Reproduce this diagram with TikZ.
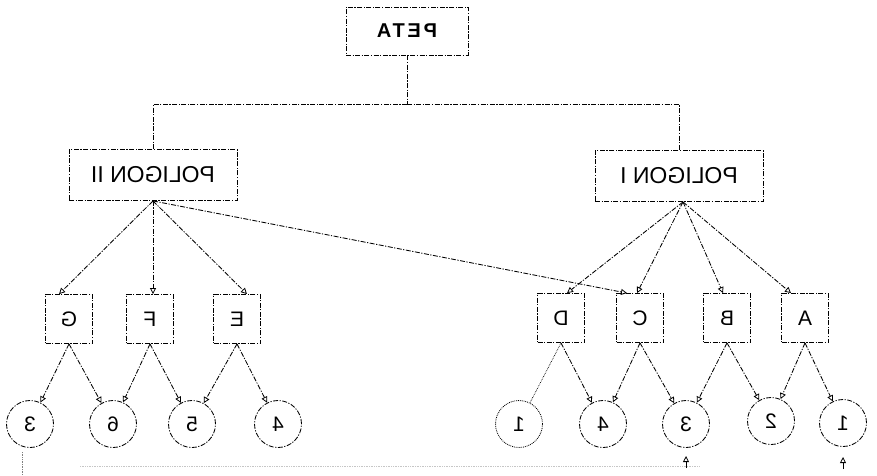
\documentclass[tikz,border=0pt]{standalone}
\usepackage{graphicx}
\usepackage{fontspec}
\setmainfont{Liberation Sans}
\usetikzlibrary{arrows.meta}
\newcommand\mirr[1]{\scalebox{-1}[1]{#1}}
\tikzset{
  dd/.style={line width=0.85pt, dash pattern=on 5pt off 1.5pt on 1.2pt off 1.5pt},
  bigbox/.style={dd, draw, minimum width=168pt, minimum height=51pt, inner sep=0pt,
    font=\fontsize{23}{23}\selectfont},
  topbox/.style={dd, draw, minimum width=122pt, minimum height=48pt, inner sep=0pt,
    font=\fontsize{20}{20}\selectfont\bfseries\addfontfeature{LetterSpace=14}},
  letbox/.style={dd, draw, minimum width=47pt, minimum height=49pt, inner sep=0pt,
    font=\fontsize{21}{21}\selectfont},
  numcirc/.style={dd, draw, circle, minimum size=47pt, inner sep=0pt,
    font=\fontsize{21}{21}\selectfont},
  arr/.style={dd, -{Triangle[open, length=6pt, width=6pt, line width=0.8pt]}},
  link/.style={dd},
  faint/.style={densely dotted, line width=0.7pt},
}
\begin{document}
\begin{tikzpicture}[x=1pt, y=-1pt]
\useasboundingbox (0,0) rectangle (877,475);

% top
\node[topbox] (peta) at (407,31) {\mirr{PETA}};
\node[bigbox] (p2) at (153,175) {\mirr{POLIGON II}};
\node[bigbox] (p1) at (679,176) {\mirr{POLIGON I}};
\coordinate (j) at (407,104);
\draw[link] (peta.south) -- (j);
\draw[link] (j) -| (p2.north);
\draw[link] (j) -| (p1.north);

% second level
\node[letbox] (G) at (69,319) {\mirr{G}};
\node[letbox] (F) at (150,319) {\mirr{F}};
\node[letbox] (E) at (237,319) {\mirr{E}};
\node[letbox] (D) at (561,318) {\mirr{D}};
\node[letbox] (C) at (640,318) {\mirr{C}};
\node[letbox] (B) at (727,318) {\mirr{B}};
\node[letbox] (A) at (805,318) {\mirr{A}};

\draw[arr] (p2.south) -- ([xshift=-10pt]G.north);
\draw[arr] (p2.south) -- ([xshift=3pt]F.north);
\draw[arr] (p2.south) -- ([xshift=10pt]E.north);
\draw[arr] (p2.south) -- ([xshift=-13pt]C.north);

\draw[arr] ([xshift=4pt]p1.south) -- ([xshift=6pt]D.north);
\draw[arr] ([xshift=4pt]p1.south) -- ([xshift=-3pt]C.north);
\draw[arr] ([xshift=4pt]p1.south) -- ([xshift=-4pt]B.north);
\draw[arr] ([xshift=4pt]p1.south) -- ([xshift=-14pt]A.north);

% circles
\node[numcirc] (l3) at (30,424) {\mirr{3}};
\node[numcirc] (l6) at (113,424) {\mirr{6}};
\node[numcirc] (l5) at (192,424) {\mirr{5}};
\node[numcirc] (l4) at (278,424) {\mirr{4}};
\node[numcirc, densely dotted] (r1a) at (519,424) {\mirr{1}};
\node[numcirc] (r4) at (603,424) {\mirr{4}};
\node[numcirc] (r3) at (686,424) {\mirr{3}};
\node[numcirc] (r2) at (771,421) {\mirr{2}};
\node[numcirc] (r1) at (843,423) {\mirr{1}};

\draw[arr] (G.south) -- (l3);
\draw[arr] (G.south) -- (l6);
\draw[arr] (F.south) -- (l6);
\draw[arr] (F.south) -- (l5);
\draw[arr] (E.south) -- (l5);
\draw[arr] (E.south) -- (l4);

\draw[faint] (D.south) -- (r1a);
\draw[arr] (D.south) -- (r4);
\draw[arr] (C.south) -- (r4);
\draw[arr] (C.south) -- (r3);
\draw[arr] (B.south) -- (r3);
\draw[arr] (B.south) -- (r2);
\draw[arr] (A.south) -- (r2);
\draw[arr] (A.south) -- (r1);

% small marks and stray lines
\coordinate (m3a) at (686,468);
\coordinate (m3b) at (686,456);
\coordinate (m1a) at (843,469);
\coordinate (m1b) at (843,457);
\draw[-{Triangle[open, length=6pt, width=6pt]}, line width=0.8pt] (m3a) -- (m3b);
\draw[-{Triangle[open, length=6pt, width=6pt]}, line width=0.8pt] (m1a) -- (m1b);
\coordinate (v1) at (22,452);
\coordinate (v2) at (22,475);
\draw[faint, gray] (v1) -- (v2);
\coordinate (h1) at (80,466);
\coordinate (h2) at (700,466);
\draw[faint, gray!45] (h1) -- (h2);
\end{tikzpicture}
\end{document}
